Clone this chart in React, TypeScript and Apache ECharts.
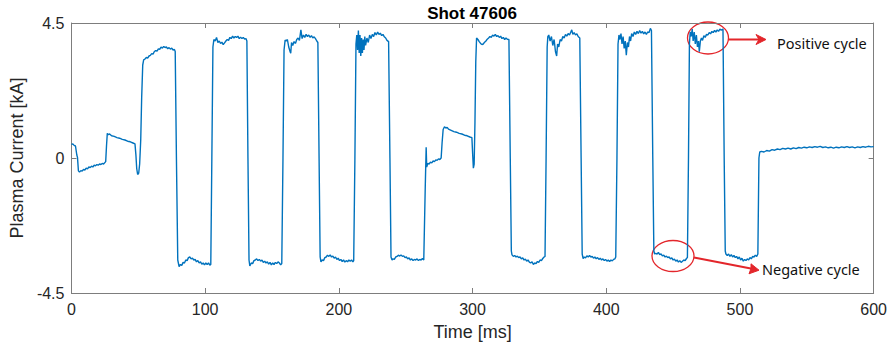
import React, { useEffect, useRef } from "react";
import * as echarts from "echarts";

type Pt = [number, number];

const chartTitle = "Shot 47606";
const xName = "Time [ms]";
const yName = "Plasma Current [kA]";
const xRange = [0, 600];
const xStep = 100;
const yRange = [-4.5, 4.5];
const yStep = 4.5;

// Shot start: small offsets before the AC cycles
const startup: Pt[] = [
  [0, 0.45], [1, 0.47], [2, 0.42], [3, 0.4], [4, 0.1], [4.5, 0.02], [5.2, -0.43], [6, -0.47], [7, -0.42],
  [8, -0.44], [9, -0.38], [10, -0.4], [11, -0.34], [12, -0.36], [13, -0.3], [14, -0.32], [15, -0.27],
  [16, -0.3], [17, -0.24], [18, -0.26], [19, -0.22], [20, -0.24], [21, -0.2], [22, -0.22], [23, -0.18],
  [24, -0.2], [25.6, -0.12], [26.2, 0.4], [26.8, 0.82], [27.5, 0.78], [28.5, 0.8], [30, 0.74], [32, 0.72],
  [34, 0.68], [36, 0.66], [38, 0.62], [40, 0.6], [42, 0.56], [44, 0.54], [46, 0.5], [47.5, 0.47],
  [48.2, 0.1], [48.8, -0.35], [49.5, -0.55], [50.3, -0.5], [51, -0.2], [51.8, 0.6], [52.5, 2.0], [53.3, 3.1],
];

// First block of positive / negative half-cycles
const cycle1: Pt[] = [
  [54, 3.27], [55, 3.3], [56, 3.35], [57, 3.33], [58, 3.4], [59, 3.42], [60, 3.48], [61, 3.46], [62, 3.55],
  [63, 3.58], [64, 3.56], [65, 3.64], [66, 3.62], [67, 3.7], [68, 3.66], [69, 3.72], [70, 3.68], [71, 3.7],
  [72, 3.64], [73, 3.68], [74, 3.63], [75, 3.66], [76, 3.6], [77, 3.62], [77.6, 3.55], [78.5, 0],
  [79.5, -3.4], [80.5, -3.62], [81.5, -3.55], [82.5, -3.58], [83.5, -3.48], [84.5, -3.5], [85.5, -3.4],
  [86.5, -3.42], [87.5, -3.32], [88.5, -3.3], [89.5, -3.36], [90.5, -3.34], [91.5, -3.4], [92.5, -3.38],
  [93.5, -3.46], [94.5, -3.42], [95.5, -3.5], [96.5, -3.46], [97.5, -3.54], [98.5, -3.5], [99.5, -3.56],
  [100.5, -3.5], [101.5, -3.55], [102.5, -3.5], [103.5, -3.57], [104.2, -3.55], [105, 0], [105.8, 3.7],
];

const cycle2: Pt[] = [
  [106.5, 3.95], [107.5, 3.9], [108.5, 4.02], [109.5, 3.85], [110.5, 3.9], [111.5, 3.82], [112.5, 3.86],
  [113.5, 3.78], [114.5, 3.84], [115.5, 3.9], [116.5, 3.95], [117.5, 3.92], [118.5, 4.02], [119.5, 3.98],
  [120.5, 4.06], [121.5, 4.0], [122.5, 4.05], [123.5, 4.02], [124.5, 4.06], [125.5, 3.98], [126.5, 4.03],
  [127.5, 3.98], [128.5, 4.02], [129.5, 3.96], [130.5, 3.98], [131.2, 3.9], [132, 0], [132.8, -3.4],
  [133.4, -3.6], [134.5, -3.5], [135.5, -3.52], [136.5, -3.42], [137.5, -3.4], [138.5, -3.36], [139.5, -3.42],
  [140.5, -3.38], [141.5, -3.44], [142.5, -3.4], [143.5, -3.48], [144.5, -3.44], [145.5, -3.5], [146.5, -3.46],
  [147.5, -3.54], [148.5, -3.48], [149.5, -3.56], [150.5, -3.5], [151.5, -3.55], [152.5, -3.48], [153.5, -3.52],
  [154.5, -3.46], [155.5, -3.5], [156.5, -3.56], [157.3, -3.52], [158.2, 0], [159, 3.6],
];

const cycle3: Pt[] = [
  [159.8, 3.93], [160.5, 3.9], [161.5, 3.95], [162.5, 3.7], [163.5, 3.55], [164, 3.49], [164.6, 3.85],
  [165.5, 3.75], [166.5, 3.88], [167.5, 3.82], [168.5, 3.95], [169.5, 4.0], [170.5, 3.92], [171.6, 4.27],
  [172.5, 3.98], [173.5, 4.1], [174.5, 4.02], [175.5, 4.12], [176.5, 4.05], [177.5, 4.1], [178.5, 4.02],
  [179.5, 4.08], [180.5, 4.0], [181.5, 4.04], [182.5, 3.98], [183.5, 3.9], [184.3, 3.85], [185.2, 0],
  [186, -3.3], [186.6, -3.46], [187.5, -3.4], [188.5, -3.42], [189.5, -3.32], [190.5, -3.3], [191.5, -3.24],
  [192.5, -3.28], [193.5, -3.23], [194.5, -3.3], [195.5, -3.27], [196.5, -3.34], [197.5, -3.3], [198.5, -3.38],
  [199.5, -3.34], [200.5, -3.42], [201.5, -3.38], [202.5, -3.45], [203.5, -3.4], [204.5, -3.47], [205.5, -3.42],
  [206.5, -3.46], [207.5, -3.4], [208.5, -3.44], [209.5, -3.4], [210.5, -3.46], [211.1, -3.42], [212, 0],
  [212.8, 3.8],
];

const cycle4: Pt[] = [
  [213.4, 4.1], [214, 3.6], [214.6, 4.25], [215.2, 3.5], [215.8, 4.1], [216.4, 3.4], [217, 4.0], [217.6, 3.5],
  [218.2, 3.95], [218.8, 3.6], [219.4, 4.05], [220, 3.75], [221, 4.0], [222, 3.85], [223, 4.1], [224, 3.98],
  [225, 4.12], [226, 4.05], [227, 4.18], [228, 4.1], [229, 4.2], [230, 4.12], [231, 4.16], [232, 4.08],
  [233, 4.12], [234, 4.04], [235, 4.0], [236, 3.92], [237.2, 3.88], [238.2, 0], [239, -3.3], [239.8, -3.4],
  [240.5, -3.36], [241.5, -3.38], [242.5, -3.3], [243.5, -3.28], [244.5, -3.24], [245.5, -3.27], [246.5, -3.23],
  [247.5, -3.28], [248.5, -3.26], [249.5, -3.32], [250.5, -3.3], [251.5, -3.36], [252.5, -3.33], [253.5, -3.4],
  [254.5, -3.36], [255.5, -3.42], [256.5, -3.38], [257.5, -3.4], [258.5, -3.36], [259.5, -3.42], [260.5, -3.38],
  [261.5, -3.4], [262.5, -3.35], [263.5, -3.4], [264.6, -1.0], [265.3, 0.36], [265.7, -0.3],
];

// Pause between the two cycle blocks
const pause: Pt[] = [
  [266.5, -0.18], [267.5, -0.2], [268.5, -0.14], [269.5, -0.16], [270.5, -0.1], [271.5, -0.12], [272.5, -0.06],
  [273.5, -0.08], [274.5, -0.03], [275.5, -0.05], [276.5, 0.0], [277.2, 0.5], [278, 0.95], [279, 1.04],
  [280, 1.0], [281, 1.02], [282, 0.96], [284, 0.92], [286, 0.88], [288, 0.86], [290, 0.82], [292, 0.8],
  [294, 0.76], [296, 0.74], [298, 0.7], [299.5, 0.68], [300.1, 0.1], [300.6, -0.34], [301.2, -0.2],
  [301.8, 1.2], [302.4, 3.2],
];

const cycle5: Pt[] = [
  [303, 4.0], [304, 3.95], [305, 3.88], [306, 3.82], [307, 3.78], [308, 3.8], [309, 3.86], [310, 3.9],
  [311, 3.96], [312, 4.0], [313, 4.05], [314, 4.02], [315, 4.1], [316, 4.06], [317, 4.12], [318, 4.05],
  [319, 4.08], [320, 4.02], [321, 4.06], [322, 3.98], [323, 4.02], [324, 3.95], [325, 4.0], [326, 3.96],
  [327.2, 3.95], [328.2, 0], [329, -3.1], [329.5, -3.23], [330.5, -3.28], [331.5, -3.25], [332.5, -3.3],
  [333.5, -3.27], [334.5, -3.32], [335.5, -3.3], [336.5, -3.36], [337.5, -3.33], [338.5, -3.4], [339.5, -3.37],
  [340.5, -3.44], [341.5, -3.4], [342.5, -3.47], [343.5, -3.5], [344.5, -3.46], [345.5, -3.55], [346.5, -3.5],
  [347.5, -3.52], [348.5, -3.45], [349.5, -3.48], [350.5, -3.4], [351.5, -3.42], [352.5, -3.35], [353.5, -3.3],
  [354.2, -3.28], [355, 0], [355.8, 3.7],
];

const cycle6: Pt[] = [
  [356.3, 4.05], [357, 4.1], [358, 3.9], [359, 4.05], [360, 3.75], [361, 3.95], [362, 3.55], [362.9, 3.4],
  [363.6, 3.8], [364.5, 3.7], [365.5, 3.95], [366.5, 3.9], [367.5, 4.05], [368.5, 4.0], [369.5, 4.12],
  [370.5, 4.06], [371.5, 4.15], [372.5, 4.1], [373.5, 4.2], [374.2, 4.27], [375, 4.12], [376, 4.18],
  [377, 4.1], [378, 4.14], [379, 4.05], [380.2, 4.0], [381.2, 0], [382, -3.2], [382.7, -3.35],
  [383.5, -3.3], [384.5, -3.33], [385.5, -3.26], [386.5, -3.3], [387.5, -3.25], [388.5, -3.3], [389.5, -3.28],
  [390.5, -3.34], [391.5, -3.3], [392.5, -3.36], [393.5, -3.32], [394.5, -3.38], [395.5, -3.34], [396.5, -3.4],
  [397.5, -3.36], [398.5, -3.42], [399.5, -3.38], [400.5, -3.44], [401.5, -3.4], [402.5, -3.45], [403.5, -3.4],
  [404.5, -3.43], [405.5, -3.38], [406.5, -3.36], [407.1, -3.3], [408, 0], [408.8, 3.8],
];

const cycle7: Pt[] = [
  [409.5, 4.1], [410.2, 3.95], [411, 4.15], [411.8, 3.8], [412.6, 4.05], [413.4, 3.65], [414.2, 3.9],
  [415, 3.43], [415.8, 3.85], [416.6, 3.7], [417.4, 4.05], [418.2, 3.9], [419, 4.15], [420, 4.05], [421, 4.2],
  [422, 4.12], [423, 4.22], [424, 4.15], [425, 4.25], [426, 4.16], [427, 4.22], [428, 4.14], [429, 4.2],
  [430, 4.12], [431, 4.2], [432, 4.18], [433, 4.32], [433.8, 4.25], [434.8, 0], [435.6, -3.1], [436.2, -3.2],
  [437, -3.18], [438, -3.2], [439, -3.15], [440, -3.22], [441, -3.2], [442, -3.26], [443, -3.24], [444, -3.3],
  [445, -3.27], [446, -3.32], [447, -3.3], [448, -3.36], [449, -3.33], [450, -3.4], [451, -3.37], [452, -3.44],
  [453, -3.4], [454, -3.47], [455, -3.42], [456, -3.48], [457, -3.44], [458, -3.4], [459, -3.42], [460, -3.35],
  [460.7, -3.32], [461.5, 0], [462.2, 3.8],
];

const cycle8: Pt[] = [
  [462.8, 4.2], [463.5, 4.05], [464.3, 4.3], [465, 3.9], [465.8, 4.2], [466.6, 3.8], [467.4, 4.1], [468.2, 3.7],
  [469, 3.9], [469.6, 3.54], [470.4, 3.9], [471.2, 4.0], [472, 3.92], [473, 4.08], [474, 4.02], [475, 4.12],
  [476, 4.1], [477, 4.18], [478, 4.14], [479, 4.22], [480, 4.18], [481, 4.25], [482, 4.2], [483, 4.27],
  [484, 4.22], [485, 4.3], [486, 4.26], [487.3, 4.3], [488.2, 0], [489, -3.1], [489.5, -3.2], [490.5, -3.25],
  [491.5, -3.2], [492.5, -3.28], [493.5, -3.22], [494.5, -3.3], [495.5, -3.25], [496.5, -3.32], [497.5, -3.28],
  [498.5, -3.36], [499.5, -3.3], [500.5, -3.4], [501.5, -3.34], [502.5, -3.44], [503.5, -3.38], [504.5, -3.42],
  [505.5, -3.36], [506.5, -3.4], [507.5, -3.32], [508.5, -3.36], [509.5, -3.28], [510.5, -3.3], [511.5, -3.24],
  [512.5, -3.28], [513.4, -3.2], [514.2, 0],
];

// Tail after the cycles end
const tail: Pt[] = [
  [514.8, 0.2], [516, 0.22], [518, 0.2], [520, 0.25], [522, 0.23], [524, 0.28], [526, 0.26], [528, 0.3],
  [530, 0.28], [532, 0.32], [534, 0.3], [536, 0.33], [538, 0.3], [540, 0.34], [542, 0.31], [544, 0.35],
  [546, 0.33], [548, 0.36], [550, 0.34], [552, 0.37], [554, 0.35], [556, 0.38], [558, 0.36], [560, 0.39],
  [562, 0.35], [564, 0.37], [566, 0.34], [568, 0.36], [570, 0.33], [572, 0.36], [574, 0.34], [576, 0.37],
  [578, 0.35], [580, 0.38], [582, 0.35], [584, 0.37], [586, 0.34], [588, 0.37], [590, 0.35], [592, 0.38],
  [594, 0.36], [596, 0.39], [598, 0.37], [600, 0.38],
];

const annotationLabels = ["Positive cycle", "Negative cycle"];

export default function App() {
  const ref = useRef<HTMLDivElement>(null);

  useEffect(() => {
    if (!ref.current) return;
    const chart = echarts.init(ref.current, undefined, { renderer: "svg" });
    const signal = [
      ...startup, ...cycle1, ...cycle2, ...cycle3, ...cycle4,
      ...pause, ...cycle5, ...cycle6, ...cycle7, ...cycle8, ...tail,
    ];
    const axisColor = "#7d7d7d";
    const labelColor = "#262626";
    const font = "'Liberation Sans', Arial, sans-serif";
    const red = "#e3262b";
    const annFont = "'Noto Sans', sans-serif";

    const baseX = {
      type: "value" as const,
      min: xRange[0],
      max: xRange[1],
      interval: xStep,
      splitLine: { show: false },
      axisLine: { show: true, onZero: false, lineStyle: { color: axisColor, width: 1 } },
      axisTick: { show: true, inside: true, length: 5, lineStyle: { color: axisColor } },
    };
    const baseY = {
      type: "value" as const,
      min: yRange[0],
      max: yRange[1],
      interval: yStep,
      splitLine: { show: false },
      axisLine: { show: true, onZero: false, lineStyle: { color: axisColor, width: 1 } },
      axisTick: { show: true, inside: true, length: 5, lineStyle: { color: axisColor } },
    };

    chart.setOption({
      animation: false,
      backgroundColor: "#ffffff",
      grid: { left: 69, right: 15, top: 23, bottom: 54, containLabel: false },
      xAxis: [
        {
          ...baseX,
          position: "bottom",
          name: xName,
          nameLocation: "middle",
          nameGap: 30,
          nameTextStyle: { color: labelColor, fontSize: 18, fontFamily: font },
          axisLabel: { color: labelColor, fontSize: 16, fontFamily: font, margin: 8 },
        },
        { ...baseX, position: "top", axisLabel: { show: false } },
      ],
      yAxis: [
        {
          ...baseY,
          position: "left",
          name: yName,
          nameLocation: "middle",
          nameGap: 41,
          nameTextStyle: { color: labelColor, fontSize: 18, fontFamily: font },
          axisLabel: { color: labelColor, fontSize: 16, fontFamily: font, margin: 7 },
        },
        { ...baseY, position: "right", axisLabel: { show: false } },
      ],
      series: [
        {
          type: "line",
          data: signal,
          showSymbol: false,
          symbol: "none",
          clip: true,
          lineStyle: { color: "#0072BD", width: 1.4 },
          xAxisIndex: 0,
          yAxisIndex: 0,
        },
      ],
      graphic: [
        {
          type: "text",
          x: 472,
          y: 13,
          style: {
            text: chartTitle,
            font: `bold 17px ${font}`,
            fill: "#000000",
            textAlign: "center",
            textVerticalAlign: "middle",
          },
        },
        {
          type: "ellipse",
          shape: { cx: 708, cy: 38, rx: 20.5, ry: 16 },
          style: { fill: "none", stroke: red, lineWidth: 1.3 },
        },
        {
          type: "line",
          shape: { x1: 728.5, y1: 39.5, x2: 764, y2: 39.5 },
          style: { stroke: red, lineWidth: 2 },
        },
        {
          type: "polygon",
          shape: { points: [[766, 39.5], [756, 34.5], [759, 39.5], [756, 44.5]] },
          style: { fill: red, stroke: red, lineWidth: 1 },
        },
        {
          type: "text",
          x: 777,
          y: 43,
          style: {
            text: annotationLabels[0],
            font: `14.5px ${annFont}`,
            fill: "#111111",
            textAlign: "left",
            textVerticalAlign: "middle",
          },
        },
        {
          type: "ellipse",
          shape: { cx: 673, cy: 256, rx: 21, ry: 15.5 },
          style: { fill: "none", stroke: red, lineWidth: 1.3 },
        },
        {
          type: "line",
          shape: { x1: 694, y1: 257.5, x2: 756, y2: 269.6 },
          style: { stroke: red, lineWidth: 2 },
        },
        {
          type: "polygon",
          shape: { points: [[759, 270.2], [749, 273.8], [751, 268.6], [751, 263.8]] },
          style: { fill: red, stroke: red, lineWidth: 1 },
        },
        {
          type: "text",
          x: 762,
          y: 268.5,
          style: {
            text: annotationLabels[1],
            font: `14.5px ${annFont}`,
            fill: "#111111",
            textAlign: "left",
            textVerticalAlign: "middle",
          },
        },
      ],
    });
    return () => chart.dispose();
  }, []);

  return (
    <div
      ref={ref}
      style={{ position: "fixed", left: 0, top: 0, width: 890, height: 347, background: "#fff" }}
    />
  );
}
